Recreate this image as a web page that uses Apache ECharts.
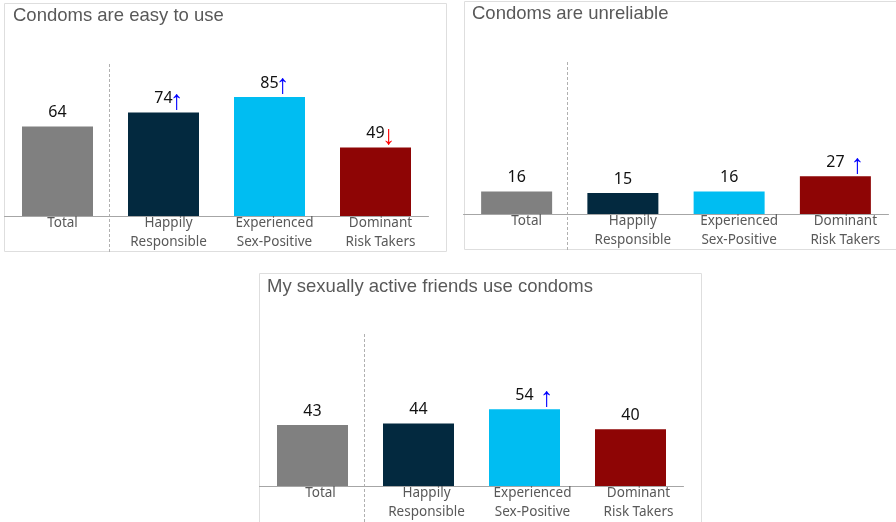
<!DOCTYPE html>
<html>
<head>
<meta charset="utf-8">
<script src="https://cdn.jsdelivr.net/npm/echarts@6/dist/echarts.min.js"></script>
<style>
  html, body { margin: 0; padding: 0; background: #ffffff; }
  #chart { width: 896px; height: 522px; }
</style>
</head>
<body>
<div id="chart"></div>
<script>
// Segment names (x axis)
const categories = ['Total', 'Happily\nResponsible', 'Experienced\nSex-Positive', 'Dominant\nRisk Takers'];

// Percent agreeing with each statement
const easyToUse = [64, 74, 85, 49];
const unreliable = [16, 15, 16, 27];
const friendsUse = [43, 44, 54, 40];

// Significance flags vs. Total ('up' / 'down' / '')
const easyFlags = ['', 'up', 'up', 'down'];
const unreliableFlags = ['', '', '', 'up'];
const friendsFlags = ['', '', 'up', ''];

const panelTitles = ['Condoms are easy to use', 'Condoms are unreliable', 'My sexually active friends use condoms'];

const barColors = ['#808080', '#03293f', '#00bdf2', '#8e0505'];

const chart = echarts.init(document.getElementById('chart'), null, { renderer: 'canvas' });

// Panel layout: grid box, label shift, arrow gap style
const panels = [
  { values: easyToUse, flags: easyFlags, grid: { left: 4.5, top: 76, width: 424, height: 140 }, shift: 5, arrowBox: 8 },
  { values: unreliable, flags: unreliableFlags, grid: { left: 463.5, top: 74, width: 425, height: 140 }, shift: 10, arrowBox: 26 },
  { values: friendsUse, flags: friendsFlags, grid: { left: 259.5, top: 344, width: 424, height: 142 }, shift: 8, arrowBox: 26 }
];

const valueFont = '"Noto Sans", sans-serif';
const arrowFont = '"Liberation Sans", Arial, sans-serif';

function labelFormatter(flags) {
  return function (p) {
    const f = flags[p.dataIndex];
    if (f === 'up') return '{sp|}{v|' + p.value + '}{up|↑}';
    if (f === 'down') return '{sp|}{v|' + p.value + '}{dn|↓}';
    return '{v|' + p.value + '}';
  };
}

function richFor(arrowBox) {
  const arrow = { fontFamily: arrowFont, fontSize: 27, width: arrowBox, align: 'center', lineHeight: 18, padding: [6, 0, 0, 0] };
  return {
    v: { fontFamily: valueFont, fontSize: 16, color: '#111111', lineHeight: 18 },
    sp: { width: arrowBox, lineHeight: 18 },
    up: Object.assign({ color: '#0000ff' }, arrow),
    dn: Object.assign({ color: '#ff0000' }, arrow)
  };
}

const option = {
  animation: false,
  backgroundColor: '#ffffff',
  title: panelTitles.map((t, i) => ({
    text: t,
    left: [13, 472, 267][i],
    top: [6, 4, 277][i],
    padding: 0,
    textStyle: { fontFamily: arrowFont, fontSize: 18.5, fontWeight: 'normal', color: '#595959' }
  })),
  grid: panels.map(p => p.grid),
  xAxis: panels.map((p, i) => ({
    type: 'category',
    gridIndex: i,
    data: categories,
    axisLine: { lineStyle: { color: '#a6a6a6', width: 1 } },
    axisTick: { show: false },
    axisLabel: {
      interval: 0,
      margin: -2,
      color: '#595959',
      fontFamily: valueFont,
      fontSize: 13.5,
      lineHeight: 19,
      padding: [0, 0, 0, p.shift * 2]
    }
  })),
  yAxis: panels.map((p, i) => ({
    type: 'value',
    gridIndex: i,
    min: 0,
    max: 100,
    show: false,
    splitLine: { show: false }
  })),
  series: panels.map((p, i) => ({
    type: 'bar',
    xAxisIndex: i,
    yAxisIndex: i,
    barWidth: 71,
    data: p.values.map((v, k) => ({ value: v, itemStyle: { color: barColors[k] } })),
    label: {
      show: true,
      position: 'top',
      distance: 5,
      formatter: labelFormatter(p.flags),
      rich: richFor(p.arrowBox)
    }
  })),
  graphic: [
    // panel frames
    { type: 'rect', shape: { x: 4.5, y: 3.5, width: 442, height: 248 }, style: { fill: 'none', stroke: '#dedede', lineWidth: 1 }, silent: true },
    { type: 'rect', shape: { x: 464.5, y: 1.5, width: 440, height: 248 }, style: { fill: 'none', stroke: '#dedede', lineWidth: 1 }, silent: true },
    { type: 'rect', shape: { x: 259.5, y: 273.5, width: 442, height: 260 }, style: { fill: 'none', stroke: '#dedede', lineWidth: 1 }, silent: true },
    // dashed separators between Total and the segments
    { type: 'line', shape: { x1: 109.5, y1: 64, x2: 109.5, y2: 252 }, style: { stroke: '#b0b0b0', lineWidth: 1, lineDash: [3, 2] }, silent: true },
    { type: 'line', shape: { x1: 567.5, y1: 62, x2: 567.5, y2: 250 }, style: { stroke: '#b0b0b0', lineWidth: 1, lineDash: [3, 2] }, silent: true },
    { type: 'line', shape: { x1: 364.5, y1: 334, x2: 364.5, y2: 522 }, style: { stroke: '#b0b0b0', lineWidth: 1, lineDash: [3, 2] }, silent: true }
  ]
};

chart.setOption(option);
</script>
</body>
</html>
